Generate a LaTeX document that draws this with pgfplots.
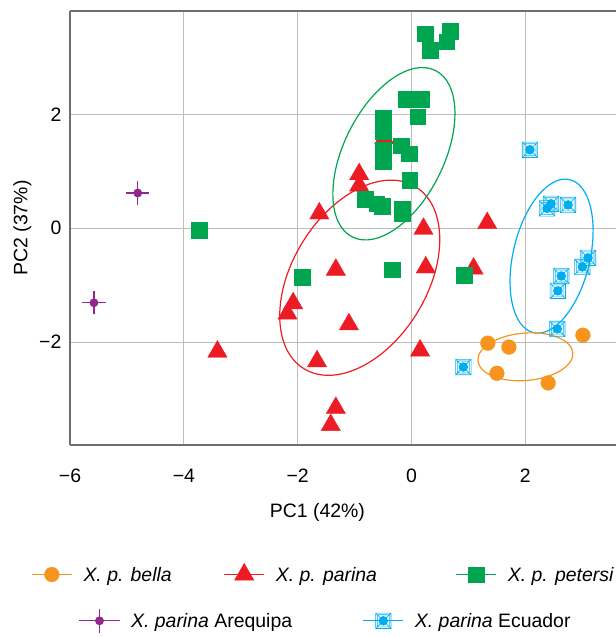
\documentclass[border=0pt]{standalone}
\usepackage{pgfplots}
\pgfplotsset{compat=1.18}
\usepackage{fontspec}
\setmainfont{Liberation Sans}
\newcommand\bigf{\fontsize{19.5}{23}\selectfont}
\definecolor{porange}{HTML}{F7941D}
\definecolor{pred}{HTML}{ED1C24}
\definecolor{pgreen}{HTML}{00A54F}
\definecolor{ppurple}{HTML}{92278F}
\definecolor{pcyan}{HTML}{00AEEF}
\definecolor{framegray}{HTML}{6E6E6E}
\definecolor{gridgray}{HTML}{BDBDBD}
\pgfdeclareplotmark{ecu}{%
  \pgfpathrectangle{\pgfqpoint{-\pgfplotmarksize}{-\pgfplotmarksize}}{\pgfqpoint{2\pgfplotmarksize}{2\pgfplotmarksize}}%
  \pgfpathrectangle{\pgfqpoint{-0.78\pgfplotmarksize}{-0.78\pgfplotmarksize}}{\pgfqpoint{1.56\pgfplotmarksize}{1.56\pgfplotmarksize}}%
  \pgfpathmoveto{\pgfqpoint{-\pgfplotmarksize}{-\pgfplotmarksize}}\pgfpathlineto{\pgfqpoint{\pgfplotmarksize}{\pgfplotmarksize}}%
  \pgfpathmoveto{\pgfqpoint{-\pgfplotmarksize}{\pgfplotmarksize}}\pgfpathlineto{\pgfqpoint{\pgfplotmarksize}{-\pgfplotmarksize}}%
  \pgfusepathqstroke
  \pgfpathcircle{\pgfpointorigin}{0.62\pgfplotmarksize}%
  \pgfusepathqfill
}
\pgfdeclareplotmark{areq}{%
  \pgfpathmoveto{\pgfqpoint{-\pgfplotmarksize}{0pt}}\pgfpathlineto{\pgfqpoint{\pgfplotmarksize}{0pt}}%
  \pgfpathmoveto{\pgfqpoint{0pt}{-\pgfplotmarksize}}\pgfpathlineto{\pgfqpoint{0pt}{\pgfplotmarksize}}%
  \pgfusepathqstroke
  \pgfpathcircle{\pgfpointorigin}{0.38\pgfplotmarksize}%
  \pgfusepathqfill
}
\pgfplotsset{
  bellast/.style={only marks, color=porange, line width=1.3bp, mark=*, mark size=7.4bp, mark options={line width=0.3bp, fill=porange, draw=porange}},
  parinast/.style={only marks, color=pred, line width=1.3bp, mark=triangle*, mark size=11.2bp, mark options={line width=0.3bp, fill=pred, draw=pred}},
  petersist/.style={only marks, color=pgreen, line width=1.3bp, mark=square*, mark size=7.8bp, mark options={line width=0.3bp, fill=pgreen, draw=pgreen}},
  areqst/.style={only marks, color=ppurple, line width=1.3bp, mark=areq, mark size=11.7bp, mark options={line width=1.3bp, fill=ppurple, draw=ppurple}},
  ecust/.style={only marks, color=pcyan, line width=1.3bp, mark=ecu, mark size=7.7bp, mark options={line width=0.6bp, fill=pcyan, draw=pcyan}},
  mylegimg/.style={legend image code/.code={\draw[sharp plot, line width=1.3bp, mark repeat=2, mark phase=2] plot coordinates {(0bp,0bp) (20bp,0bp) (40bp,0bp)};}},
  geom/.style={x=56.9bp, y=56.85bp, xmin=-6, xmax=3.59, ymin=-3.81, ymax=3.82},
}
\begin{document}
\begin{tikzpicture}
\begin{axis}[
  geom,
  axis x line=box, axis y line=left,
  axis line style={-, draw=framegray, line width=1.3bp},
  every outer y axis line/.append style={-},
  xtick={-6,-4,-2,0,2}, xticklabels={−6,−4,−2,0,2},
  ytick={-2,0,2}, yticklabels={−2,0,2},
  major tick length=0pt,
  grid=major, major grid style={draw=gridgray, line width=0.9bp},
  ticklabel style={font=\bigf},
  xticklabel style={anchor=base, yshift=-37.4bp},
  yticklabel style={anchor=east, inner sep=0pt, xshift=-8.5bp},
  xlabel={PC1 (42\%)}, ylabel={PC2 (37\%)},
  every axis x label/.style={at={(axis description cs:0.4532,-0.1667)}, anchor=base, font=\bigf},
  every axis y label/.style={at={(axis description cs:-0.078,0.5)}, rotate=90, anchor=base, font=\bigf},
  mylegimg,
  legend columns=3,
  legend cell align=left,
  legend style={at={(axis description cs:-0.0715,-0.2947)}, anchor=west, draw=none, fill=none, inner sep=0pt, column sep=0pt, nodes={inner sep=0pt, text depth=0pt}, font=\bigf},
]
\coordinate (SW) at (rel axis cs:0,0);
\coordinate (NE) at (rel axis cs:1,1);
% ellipses
\draw[pred, line width=1.2bp] (axis cs:-0.91,-0.87) ellipse [x radius=106.7bp, y radius=67.3bp, rotate=58.5];
\draw[pgreen, line width=1.2bp] (axis cs:-0.31,1.31) ellipse [x radius=93bp, y radius=50bp, rotate=63.5];
\draw[pcyan, line width=1.2bp] (axis cs:2.46,-0.49) ellipse [x radius=78.6bp, y radius=38.4bp, rotate=76.7];
\draw[porange, line width=1.2bp] (axis cs:2.00,-2.26) ellipse [x radius=47.6bp, y radius=23.7bp, rotate=4.8];

\addplot[bellast] coordinates {
(1.34,-2.02) (1.71,-2.09) (1.50,-2.55) (2.40,-2.72) (3.01,-1.88)
};
\addlegendentry{\hspace*{11bp}\makebox[140bp][l]{\textit{X. p. bella}}}
\addplot[parinast] coordinates {
(-0.92,0.95) (-0.92,0.75) (-0.48,1.58) (-1.62,0.26) (-1.33,-0.73)
(0.21,-0.01) (1.33,0.09) (0.25,-0.69) (1.09,-0.71) (-1.10,-1.69)
(0.15,-2.15) (-2.08,-1.32) (-2.18,-1.50) (-1.66,-2.34) (-1.33,-3.16)
(-1.42,-3.46) (-3.41,-2.17)
};
\addlegendentry{\hspace*{11bp}\makebox[179.6bp][l]{\textit{X. p. parina}}}
\addplot[petersist] coordinates {
(0.24,3.42) (0.68,3.47) (0.62,3.28) (0.33,3.13)
(-0.10,2.27) (0.18,2.27) (0.11,1.96)
(-0.50,1.94) (-0.50,1.70) (-0.50,1.38) (-0.50,1.17)
(-0.18,1.45) (-0.04,1.31) (-0.03,0.85)
(-0.82,0.51) (-0.61,0.43) (-0.52,0.39)
(-0.16,0.34) (-0.16,0.26)
(-3.73,-0.03) (-1.92,-0.86) (-0.34,-0.73) (0.92,-0.82)
};
\addlegendentry{\hspace*{11bp}\makebox[110bp][l]{\textit{X. p. petersi}}}
\addplot[areqst, forget plot] coordinates {
(-4.81,0.62) (-5.58,-1.31)
};
\addplot[ecust, forget plot] coordinates {
(2.08,1.38) (2.38,0.35) (2.45,0.43) (2.75,0.41) (2.63,-0.84)
(2.57,-1.10) (3.00,-0.68) (3.10,-0.52) (2.56,-1.77) (0.91,-2.44)
};
\end{axis}
\begin{axis}[
  geom, hide axis, mylegimg,
  legend columns=2,
  legend cell align=left,
  legend style={at={(axis description cs:0.0158,-0.4053)}, anchor=west, draw=none, fill=none, inner sep=0pt, column sep=0pt, nodes={inner sep=0pt, text depth=0pt}, font=\bigf},
]
\addlegendimage{areqst}
\addlegendentry{\hspace*{11bp}\makebox[231.4bp][l]{\textit{X. parina} Arequipa}}
\addlegendimage{ecust}
\addlegendentry{\hspace*{11bp}\makebox[160bp][l]{\textit{X. parina} Ecuador}}
\end{axis}
\pgfresetboundingbox
\path[use as bounding box] ([xshift=-70bp,yshift=-192bp]SW) rectangle ([yshift=11bp]NE);
\end{tikzpicture}
\end{document}
